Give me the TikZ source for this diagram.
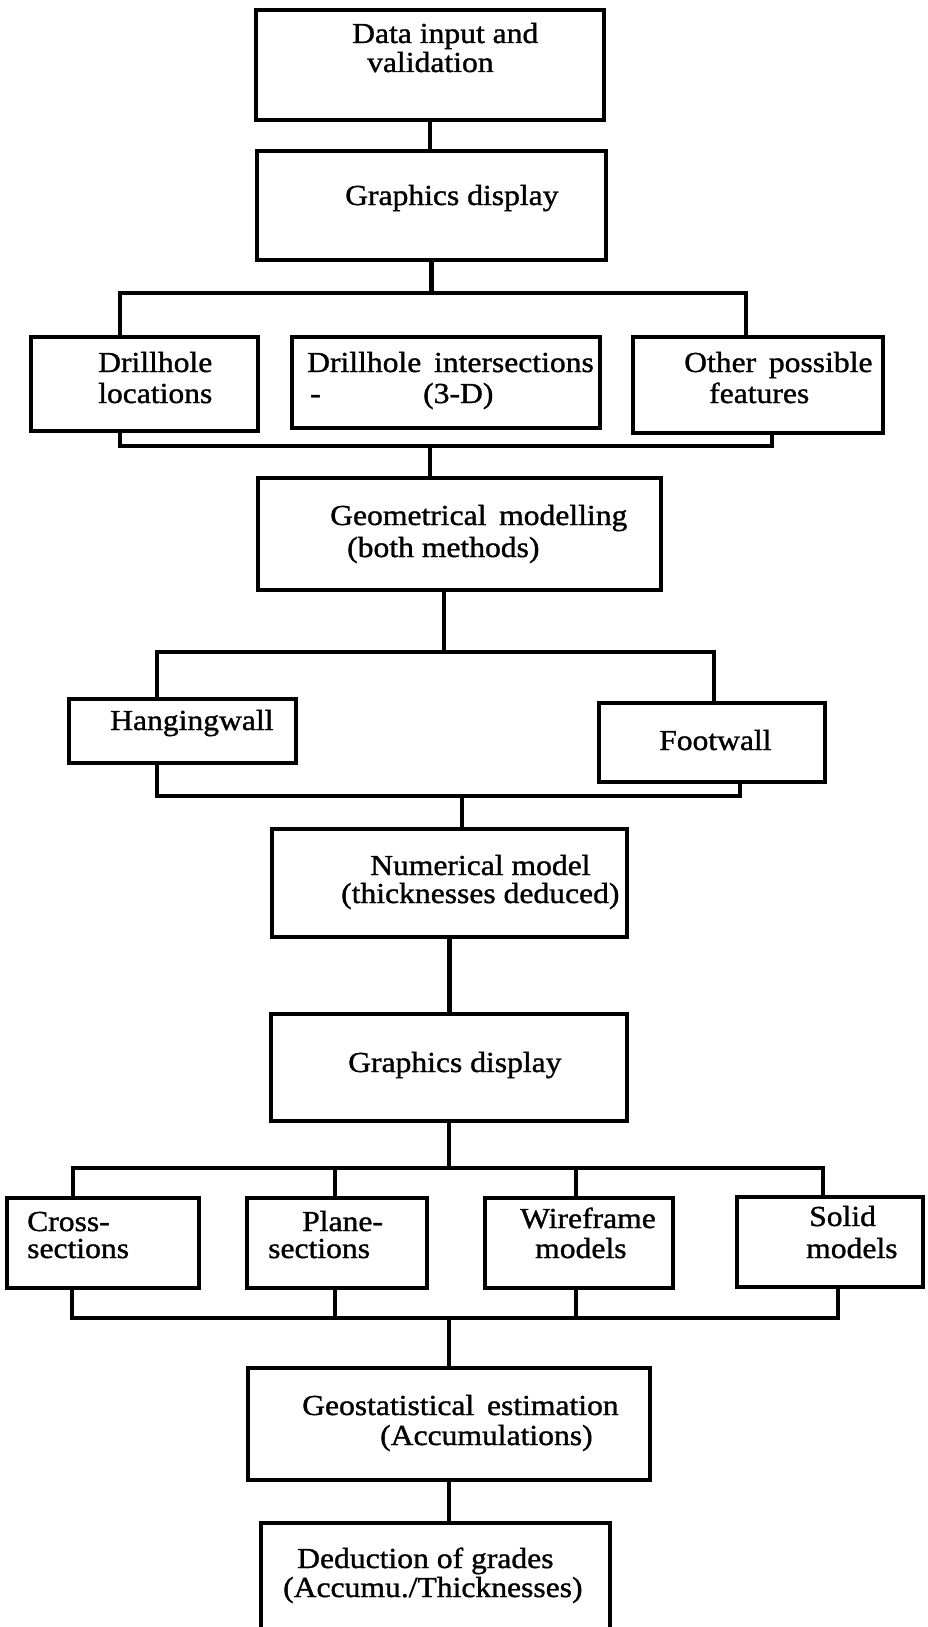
\documentclass[tikz,border=0pt]{standalone}
\usepackage{fontspec}
\setmainfont{Liberation Serif}[FakeStretch=1.09, FakeBold=1.2]
\usetikzlibrary{positioning,calc}

\begin{document}
\begin{tikzpicture}[x=1pt, y=-1pt,
    box/.style={draw, line width=3.8pt, inner sep=0pt},
    txt/.style={anchor=base west, inner sep=0pt, font=\fontsize{29}{31}\selectfont},
    trunk/.style={line width=4.8pt},
    wire/.style={line width=3.4pt}]
  \useasboundingbox (0,0) rectangle (928,1627);
  % the boxes, top to bottom
  \node[box, minimum width=348pt, minimum height=110pt] (data) at (430,65) {};
  \node[box, minimum width=349pt, minimum height=109pt] (disp) at (431.5,205.5) {};
  \node[box, minimum width=227pt, minimum height=94pt] (loc) at (144.5,384) {};
  \node[box, minimum width=308pt, minimum height=91pt] (isect) at (446,382.5) {};
  \node[box, minimum width=250pt, minimum height=96pt] (other) at (758,385) {};
  \node[box, minimum width=403pt, minimum height=112pt] (geo) at (459.5,534) {};
  \node[box, minimum width=227pt, minimum height=64pt] (hang) at (182.5,731) {};
  \node[box, minimum width=226pt, minimum height=79pt] (foot) at (712,742.5) {};
  \node[box, minimum width=355pt, minimum height=108pt] (num) at (449.5,883) {};
  \node[box, minimum width=356pt, minimum height=107pt] (disp2) at (449,1067.5) {};
  \node[box, minimum width=192pt, minimum height=90pt] (cross) at (103,1243) {};
  \node[box, minimum width=180pt, minimum height=90pt] (plane) at (337,1243) {};
  \node[box, minimum width=188pt, minimum height=90pt] (wire) at (579,1243) {};
  \node[box, minimum width=186pt, minimum height=90pt] (solid) at (830,1242) {};
  \node[box, minimum width=402pt, minimum height=112pt] (geost) at (449,1424) {};
  \node[box, minimum width=349pt, minimum height=134pt] (deduct) at (435.5,1590) {};
  % the texts
  \node[txt] (data1) at (352,43) {Data input and};
  \node[txt] (data2) at (367,72) {validation};
  \node[txt] (disp1) at (345,205) {Graphics display};
  \node[txt] (loc1) at (98,372) {Drillhole};
  \node[txt] (loc2) at (98,403) {locations};
  \node[txt] (isect1) at (307,372) {Drillhole\, intersections};
  \node[txt] (isect2) at (310,403) {-};
  \node[txt] (isect3) at (423,403) {(3-D)};
  \node[txt] (other1) at (684,372) {Other\, possible};
  \node[txt] (other2) at (709,403) {features};
  \node[txt] (geo1) at (330,525) {Geometrical\, modelling};
  \node[txt] (geo2) at (347,557) {(both methods)};
  \node[txt] (hang1) at (110,730) {Hangingwall};
  \node[txt] (foot1) at (659,750) {Footwall};
  \node[txt] (num1) at (370,875) {Numerical model};
  \node[txt] (num2) at (341,903) {(thicknesses deduced)};
  \node[txt] (disp21) at (348,1072) {Graphics display};
  \node[txt] (cross1) at (27,1231) {Cross-};
  \node[txt] (cross2) at (27,1258) {sections};
  \node[txt] (plane1) at (302,1231) {Plane-};
  \node[txt] (plane2) at (268,1258) {sections};
  \node[txt] (wire1) at (520,1228) {Wireframe};
  \node[txt] (wire2) at (535,1258) {models};
  \node[txt] (solid1) at (809,1226) {Solid};
  \node[txt] (solid2) at (806,1258) {models};
  \node[txt] (geost1) at (302,1415) {Geostatistical\, estimation};
  \node[txt] (geost2) at (380,1445) {(Accumulations)};
  \node[txt] (ded1) at (297,1568) {Deduction of grades};
  \node[txt] (ded2) at (283,1597) {(Accumu./Thicknesses)};
  % bus points
  \coordinate (b1l) at (120,293);  \coordinate (b1r) at (746,293);
  \coordinate (c1l) at (120,446);  \coordinate (c1r) at (772,446);
  \coordinate (c1m) at (430,446);
  \coordinate (b2l) at (157,652);  \coordinate (b2r) at (714,652);
  \coordinate (b2m) at (444,652);
  \coordinate (c2l) at (157,796);  \coordinate (c2r) at (740,796);
  \coordinate (c2m) at (462,796);
  \coordinate (b3a) at (73,1168);  \coordinate (b3b) at (335,1168);
  \coordinate (b3c) at (576,1168); \coordinate (b3d) at (823,1168);
  \coordinate (c3a) at (72,1318);  \coordinate (c3b) at (335,1318);
  \coordinate (c3c) at (576,1318); \coordinate (c3d) at (838,1318);
  % connectors
  \draw[trunk] (data.south) -- (data.south |- disp.north);
  \draw[trunk] (disp.south) -- (disp.south |- b1l);
  \draw[wire] (loc.north -| b1l) -- (b1l) -- (b1r) -- (other.north -| b1r);
  \draw[wire] (loc.south -| c1l) -- (c1l) -- (c1r) -- (other.south -| c1r);
  \draw[trunk] (c1m) -- (geo.north -| c1m);
  \draw[trunk] (geo.south -| b2m) -- (b2m);
  \draw[wire] (hang.north -| b2l) -- (b2l) -- (b2r) -- (foot.north -| b2r);
  \draw[wire] (hang.south -| c2l) -- (c2l) -- (c2r) -- (foot.south -| c2r);
  \draw[trunk] (c2m) -- (num.north -| c2m);
  \draw[trunk] (num.south) -- (num.south |- disp2.north);
  \draw[trunk] (disp2.south) -- (disp2.south |- b3a);
  \draw[wire] (cross.north -| b3a) -- (b3a) -- (b3d) -- (solid.north -| b3d);
  \draw[wire] (b3b) -- (plane.north -| b3b);
  \draw[wire] (b3c) -- (wire.north -| b3c);
  \draw[wire] (cross.south -| c3a) -- (c3a) -- (c3d) -- (solid.south -| c3d);
  \draw[wire] (plane.south -| c3b) -- (c3b);
  \draw[wire] (wire.south -| c3c) -- (c3c);
  \draw[trunk] (geost.north |- c3a) -- (geost.north);
  \draw[trunk] (geost.south) -- (deduct.north -| geost.south);
\end{tikzpicture}
\end{document}
